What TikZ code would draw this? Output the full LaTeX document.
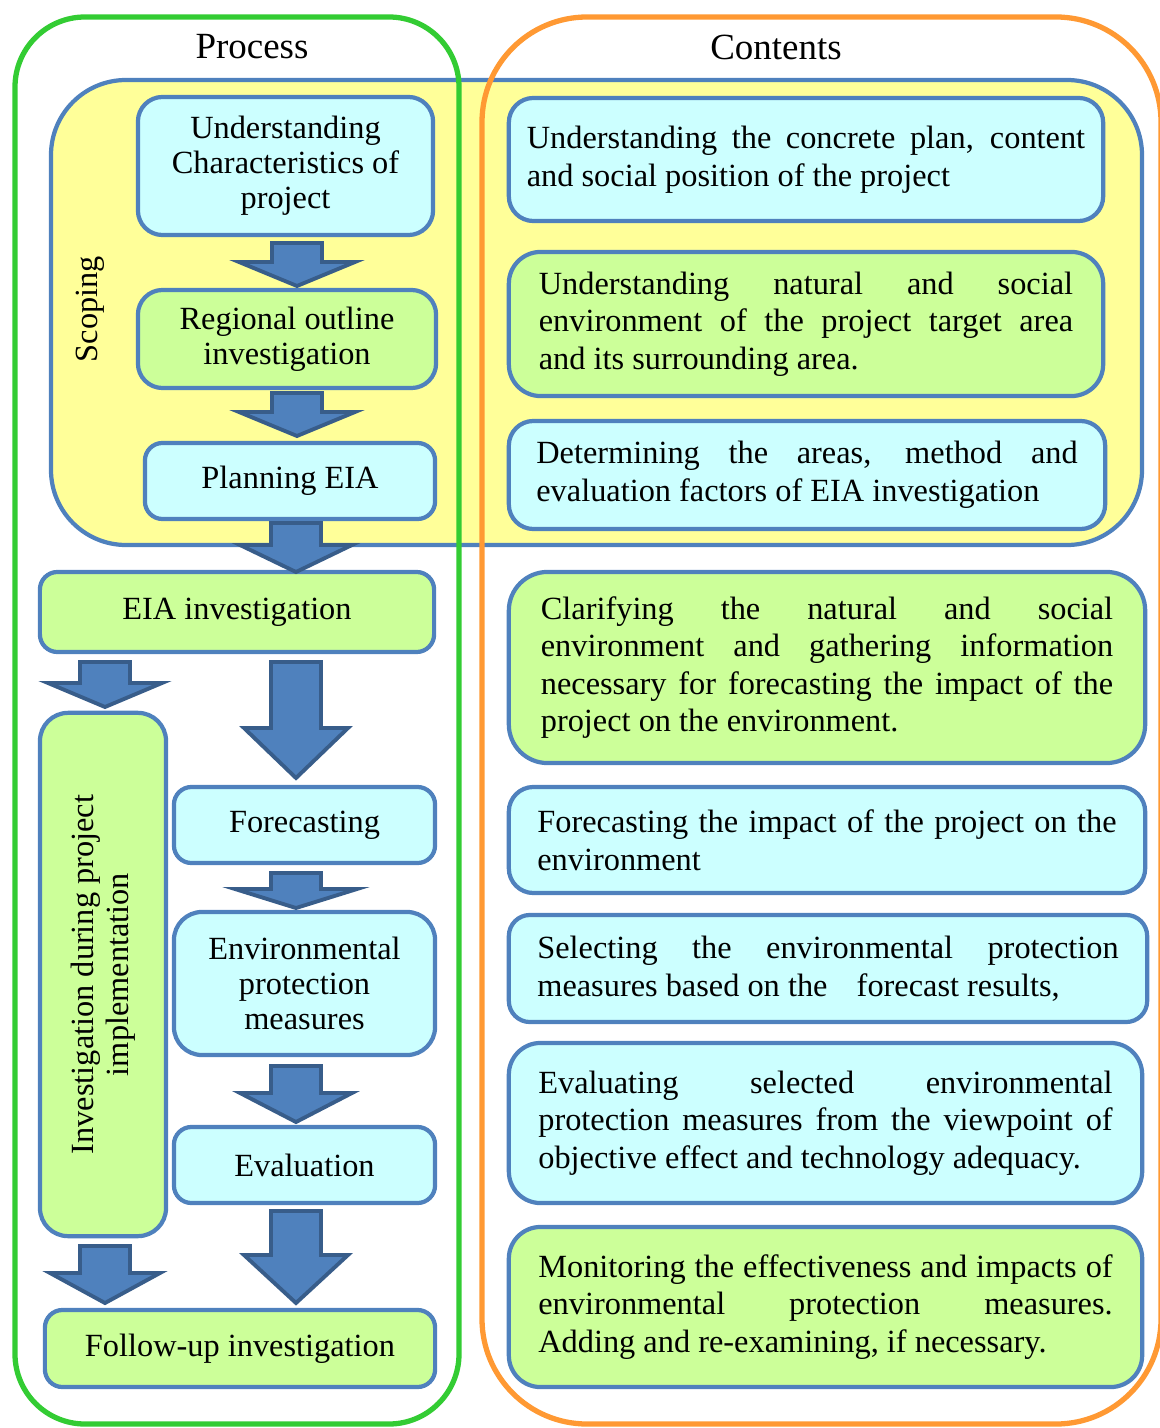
\documentclass[tikz,border=0pt]{standalone}
\usepackage{fontspec}
\setmainfont{Liberation Serif}

\definecolor{boxblue}{HTML}{4F81BD}
\definecolor{arrowedge}{HTML}{385D8A}
\definecolor{cyanfill}{HTML}{CCFFFF}
\definecolor{greenfill}{HTML}{CCFF99}
\definecolor{scopefill}{HTML}{FFFF99}
\definecolor{framegreen}{HTML}{33CC33}
\definecolor{frameorange}{HTML}{FF9933}

\tikzset{
  box/.style={draw=boxblue, line width=1.2pt, rounded corners=7pt, inner sep=0pt,
    align=center, font=\fontsize{9.2}{10}\selectfont},
  cbox/.style={box, fill=cyanfill},
  gbox/.style={box, fill=greenfill},
  txt/.style={align=justify, font=\fontsize{9.2}{10.7}\selectfont},
  blk/.style={fill=boxblue, draw=arrowedge, line width=1.1pt, line join=miter},
  title/.style={font=\fontsize{10.5}{12}\selectfont},
}

% block arrow: x, top, wing, tip, half shaft, half wing
\newcommand{\blkarrow}[6]{%
  \draw[blk] (#1-#5,#2) -- (#1+#5,#2) -- (#1+#5,#3) -- (#1+#6,#3) -- (#1,#4)
    -- (#1-#6,#3) -- (#1-#5,#3) -- cycle;}

\begin{document}
\begin{tikzpicture}[x=0.01cm, y=-0.01cm]
\useasboundingbox (0,0) rectangle (1159,1428);

% scoping area
\draw[draw=boxblue, line width=1.2pt, fill=scopefill, rounded corners=0.75cm] (51,80) rectangle (1142,545);

% frames
\draw[framegreen, line width=1.5pt, rounded corners=0.7cm] (15,17) rectangle (459,1424);
\draw[frameorange, line width=1.5pt, rounded corners=1.05cm] (482,17) rectangle (1161,1424);

\node[title] (proc) at (252,47) {Process};
\node[title] (cont) at (776,47) {Contents};
\node[rotate=90, font=\fontsize{9.2}{10}\selectfont] (scoping) at (90,309) {Scoping};

% process column
\node[cbox, minimum width=2.95cm, minimum height=1.38cm] (char) at (285.5,166) {Understanding\\Characteristics of\\project};
\node[gbox, minimum width=2.98cm, minimum height=0.98cm] (region) at (287,339) {Regional outline\\investigation};
\node[cbox, minimum width=2.90cm, minimum height=0.76cm, rounded corners=5pt] (plan) at (290,481) {Planning EIA};
\node[gbox, minimum width=3.94cm, minimum height=0.80cm, rounded corners=5pt] (eiainv) at (237,612) {EIA investigation};
\node[gbox, rotate=90, minimum width=5.23cm, minimum height=1.26cm, rounded corners=8pt] (impl) at (103,974.5) {Investigation during project\\implementation};
\node[cbox, minimum width=2.61cm, minimum height=0.76cm, rounded corners=5pt] (fore) at (304.5,825) {Forecasting};
\node[cbox, minimum width=2.61cm, minimum height=1.43cm, rounded corners=8pt] (prot) at (304.5,983.5) {Environmental\\protection\\measures};
\node[cbox, minimum width=2.61cm, minimum height=0.76cm, rounded corners=5pt] (eval) at (304.5,1165) {Evaluation};
\node[gbox, minimum width=3.90cm, minimum height=0.77cm, rounded corners=5pt] (follow) at (240,1348.5) {Follow-up investigation};

% arrows
\blkarrow{297}{243}{262}{286}{25}{58}
\blkarrow{297}{393}{412}{436}{25}{58}
\blkarrow{296}{523}{545}{572}{25}{56}
\blkarrow{105}{662}{683}{707}{25}{57}
\blkarrow{296}{662}{728}{778}{25}{52}
\blkarrow{296}{873}{889}{908}{25}{61}
\blkarrow{296}{1066}{1093}{1122}{25}{56}
\blkarrow{105}{1246}{1273}{1303}{25}{55}
\blkarrow{296}{1211}{1255}{1303}{25}{52}

% contents column
\node[cbox, txt, minimum width=5.94cm, minimum height=1.23cm, text width=5.58cm] (c1) at (806,159.5)
  {Understanding the concrete plan, content\linebreak and social position of the project};
\node[gbox, txt, minimum width=5.94cm, minimum height=1.44cm, text width=5.34cm, rounded corners=9pt] (c2) at (806,324)
  {Understanding natural and social\linebreak environment of the project target area\linebreak and its surrounding area.};
\node[cbox, txt, minimum width=5.96cm, minimum height=1.08cm, text width=5.41cm] (c3) at (807,475)
  {Determining the areas, method and\linebreak evaluation factors of EIA investigation};
\node[gbox, txt, minimum width=6.36cm, minimum height=1.91cm, text width=5.72cm, rounded corners=11pt] (c4) at (827,667.5)
  {Clarifying the natural and social\linebreak environment and gathering information\linebreak necessary for forecasting the impact of the\linebreak project on the environment.};
\node[cbox, txt, minimum width=6.36cm, minimum height=1.06cm, text width=5.79cm] (c5) at (827,840)
  {Forecasting the impact of the project on the\linebreak environment};
\node[cbox, txt, minimum width=6.38cm, minimum height=1.07cm, text width=5.81cm, rounded corners=6pt] (c6) at (828,968.5)
  {Selecting the environmental protection\linebreak measures based on the\hspace{6pt} forecast results,};
\node[cbox, txt, minimum width=6.33cm, minimum height=1.60cm, text width=5.74cm, rounded corners=9pt] (c7) at (825.5,1123)
  {Evaluating selected environmental\linebreak protection measures from the viewpoint of\linebreak objective effect and technology adequacy.};
\node[gbox, txt, minimum width=6.33cm, minimum height=1.60cm, text width=5.74cm, rounded corners=9pt] (c8) at (825.5,1307)
  {Monitoring the effectiveness and impacts of\linebreak environmental protection measures.\linebreak Adding and re-examining, if necessary.};
\end{tikzpicture}
\end{document}
